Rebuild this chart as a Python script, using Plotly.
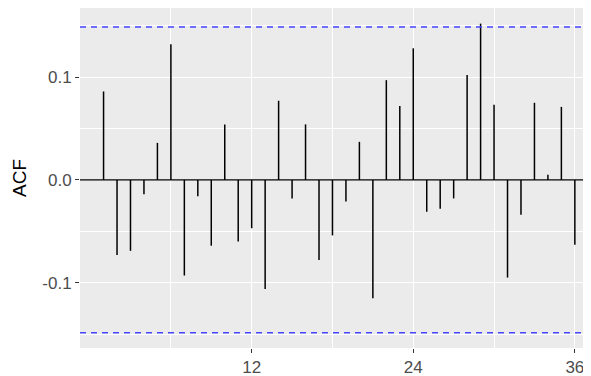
import plotly.graph_objects as go

lags = list(range(1, 37))
acf = [0.086, -0.073, -0.069, -0.014, 0.036, 0.132, -0.093, -0.016, -0.064, 0.054,
       -0.060, -0.047, -0.106, 0.077, -0.018, 0.054, -0.078, -0.054, -0.021, 0.037,
       -0.115, 0.097, 0.072, 0.128, -0.031, -0.028, -0.018, 0.102, 0.152, 0.073,
       -0.095, -0.034, 0.075, 0.005, 0.071, -0.063]
ci = 0.1487
x_ticks = [12, 24, 36]
y_ticks = [-0.1, 0.0, 0.1]
y_tick_text = ["-0.1", "0.0", "0.1"]

seg_x, seg_y = [], []
for l, v in zip(lags, acf):
    seg_x += [l, l, None]
    seg_y += [0, v, None]

fig = go.Figure()
fig.add_trace(go.Scatter(x=seg_x, y=seg_y, mode="lines",
                         line=dict(color="black", width=1.5),
                         hoverinfo="skip", showlegend=False))

fig.add_hline(y=0, line=dict(color="black", width=1.2))
for c in (ci, -ci):
    fig.add_hline(y=c, line=dict(color="rgb(70,70,255)", width=1.4, dash="6px,5px"))

# page body has an 8px margin, so the figure is sized to the visible area
fig.update_layout(
    width=583, height=368,
    margin=dict(l=72, r=0, t=0, b=28),
    paper_bgcolor="white",
    plot_bgcolor="#EBEBEB",
    font=dict(family="Liberation Sans, Arial, sans-serif"),
    showlegend=False,
)
fig.update_xaxes(
    range=[-0.75, 37.2],
    tickvals=x_ticks, ticktext=[str(t) for t in x_ticks],
    showgrid=True, gridcolor="white", gridwidth=1.2,
    minor=dict(tickvals=[6, 18, 30], showgrid=True, gridcolor="white", gridwidth=0.6, ticks=""),
    ticks="outside", ticklen=4, tickcolor="#333333", tickwidth=1,
    tickfont=dict(size=17, color="#4D4D4D"),
    zeroline=False, showline=False,
)
fig.update_yaxes(
    range=[-0.1635, 0.1672],
    tickvals=y_ticks, ticktext=y_tick_text,
    showgrid=True, gridcolor="white", gridwidth=1.2,
    minor=dict(tickvals=[-0.15, -0.05, 0.05, 0.15], showgrid=True, gridcolor="white", gridwidth=0.6, ticks=""),
    ticks="outside", ticklen=4, tickcolor="#333333", tickwidth=1,
    tickfont=dict(size=17, color="#4D4D4D"),
    zeroline=False, showline=False,
    title=dict(text="ACF", font=dict(size=19, color="black"), standoff=10),
)

fig.write_html("out.html")
